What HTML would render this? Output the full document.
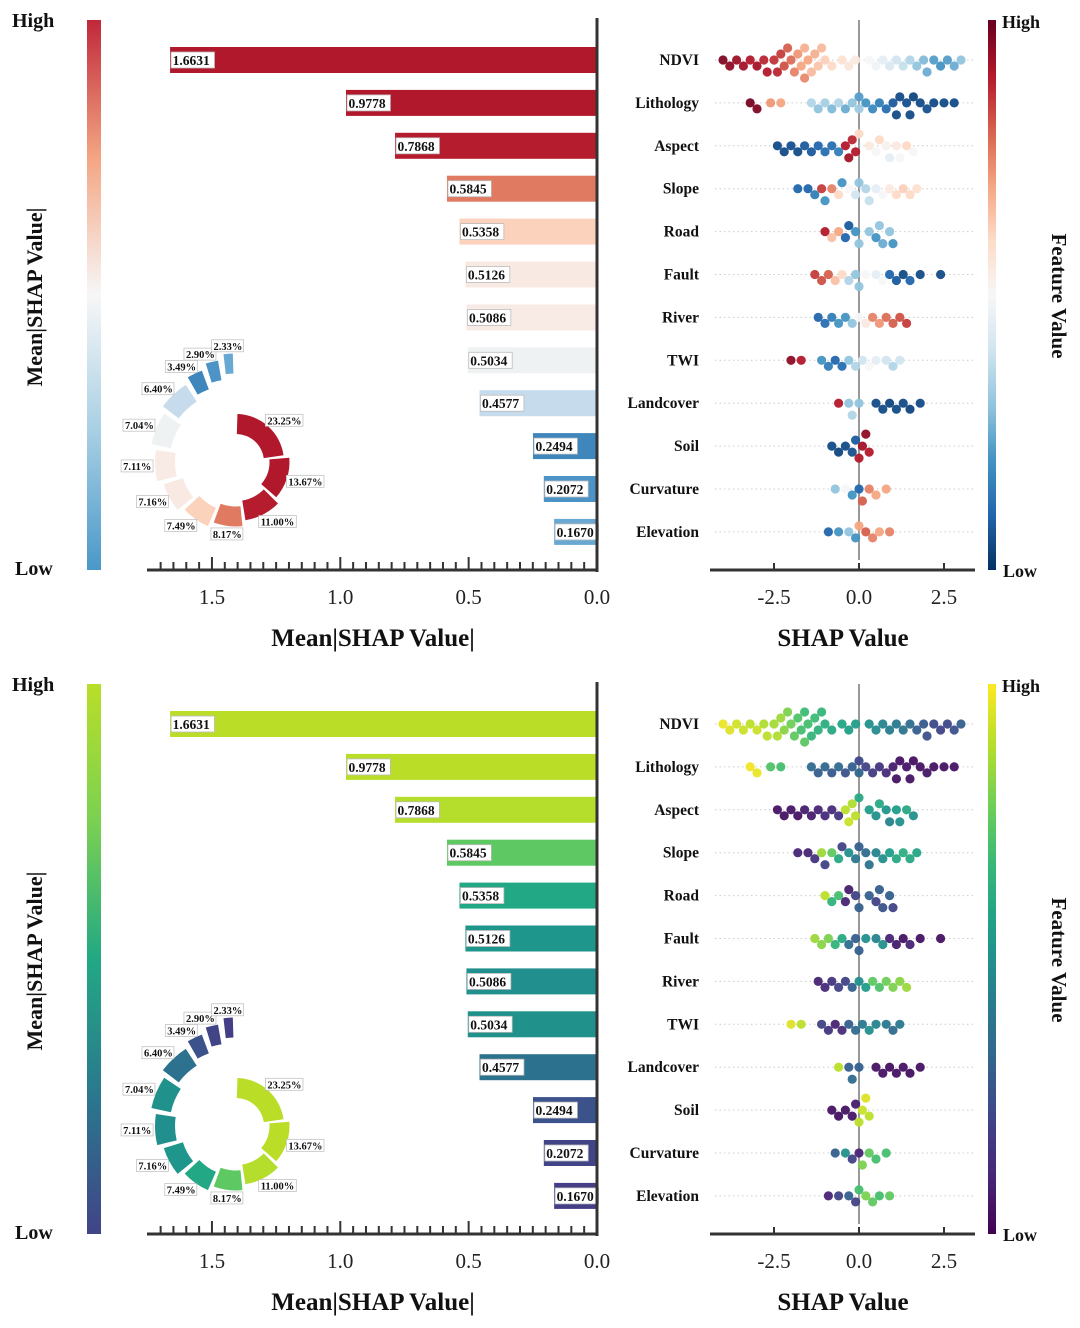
<!DOCTYPE html>
<html><head><meta charset="utf-8">
<style>
html,body{margin:0;padding:0;background:#fff;}
svg{display:block;font-family:"Liberation Serif",serif;}
</style></head>
<body>
<svg id="chart" width="1080" height="1328" viewBox="0 0 1080 1328" xmlns="http://www.w3.org/2000/svg"></svg>
<script>
const features = ["NDVI","Lithology","Aspect","Slope","Road","Fault","River","TWI","Landcover","Soil","Curvature","Elevation"];
const meanShap = [1.6631,0.9778,0.7868,0.5845,0.5358,0.5126,0.5086,0.5034,0.4577,0.2494,0.2072,0.1670];
const sharePct = [23.25,13.67,11.00,8.17,7.49,7.16,7.11,7.04,6.40,3.49,2.90,2.33];
const barTicks = [1.5,1.0,0.5,0.0];
const shapTicks = [-2.5,0.0,2.5];
const barColorsRdBu = ["#b2182b","#b2182b","#b51d2e","#e07b62","#fbd3bd","#f8e9e3","#f8ebe6","#eef2f3","#c6dcec","#3f86bd","#4d93c5","#69a8d2"];
const barColorsVir = ["#bade28","#bade28","#b5dd2b","#5ec962","#22a884","#1f968b","#218f8d","#21918c","#2c728e","#3b528b","#414487","#433e85"];
const swarmShap = [
 [-4.0,-3.8,-3.6,-3.4,-3.2,-3.0,-2.8,-2.7,-2.5,-2.4,-2.3,-2.2,-2.1,-2.0,-1.9,-1.8,-1.7,-1.6,-1.6,-1.5,-1.4,-1.3,-1.2,-1.1,-1.0,-0.8,-0.5,-0.3,-0.1,0.3,0.5,0.7,0.9,1.1,1.3,1.5,1.7,1.9,2.0,2.2,2.4,2.6,2.8,3.0],
 [-3.2,-3.0,-2.6,-2.3,-1.4,-1.2,-1.0,-0.8,-0.6,-0.4,-0.2,0.0,0.0,0.2,0.4,0.6,0.8,1.0,1.1,1.2,1.4,1.5,1.6,1.8,2.0,2.2,2.5,2.8],
 [-2.4,-2.2,-2.0,-1.8,-1.6,-1.4,-1.2,-1.0,-0.8,-0.6,-0.4,-0.3,-0.2,-0.1,0.0,0.3,0.5,0.6,0.8,0.9,1.1,1.2,1.4,1.6],
 [-1.8,-1.5,-1.3,-1.1,-1.0,-0.8,-0.6,-0.5,-0.3,-0.1,0.0,0.2,0.3,0.5,0.7,0.9,1.1,1.3,1.5,1.7],
 [-1.0,-0.8,-0.6,-0.4,-0.3,-0.1,0.0,0.3,0.5,0.6,0.7,0.9,1.0],
 [-1.3,-1.1,-0.9,-0.7,-0.5,-0.3,-0.1,0.0,0.2,0.5,0.7,0.9,1.1,1.3,1.5,1.8,2.4],
 [-1.2,-1.0,-0.8,-0.6,-0.4,-0.2,0.0,0.2,0.4,0.6,0.8,1.0,1.2,1.4],
 [-2.0,-1.7,-1.1,-0.9,-0.7,-0.5,-0.3,-0.1,0.1,0.3,0.5,0.8,1.0,1.2],
 [-0.6,-0.3,-0.2,0.0,0.5,0.7,0.9,1.1,1.3,1.5,1.8],
 [-0.8,-0.6,-0.4,-0.2,-0.1,0.0,0.1,0.2,0.3],
 [-0.7,-0.4,-0.2,0.0,0.1,0.3,0.5,0.8],
 [-0.9,-0.6,-0.3,-0.1,0.0,0.2,0.4,0.6,0.9]
];
const swarmFeat = [
 [0.97,0.95,0.93,0.92,0.9,0.92,0.88,0.9,0.86,0.88,0.85,0.82,0.8,0.78,0.75,0.72,0.7,0.68,0.74,0.7,0.66,0.68,0.64,0.66,0.62,0.6,0.58,0.56,0.55,0.5,0.48,0.45,0.42,0.4,0.38,0.35,0.3,0.28,0.25,0.22,0.2,0.22,0.25,0.3],
 [0.98,0.97,0.72,0.7,0.35,0.3,0.33,0.28,0.35,0.25,0.3,0.32,0.22,0.2,0.18,0.15,0.12,0.08,0.05,0.05,0.06,0.05,0.04,0.05,0.06,0.05,0.05,0.05],
 [0.05,0.05,0.06,0.05,0.08,0.08,0.1,0.12,0.12,0.15,0.9,0.92,0.88,0.9,0.6,0.55,0.5,0.6,0.52,0.45,0.55,0.5,0.6,0.5],
 [0.1,0.1,0.15,0.85,0.2,0.75,0.6,0.2,0.5,0.4,0.3,0.35,0.38,0.45,0.5,0.55,0.6,0.62,0.6,0.58],
 [0.9,0.65,0.7,0.1,0.08,0.2,0.3,0.3,0.2,0.3,0.25,0.3,0.2],
 [0.85,0.82,0.8,0.65,0.6,0.35,0.3,0.3,0.5,0.45,0.5,0.1,0.08,0.05,0.1,0.05,0.05],
 [0.1,0.12,0.15,0.2,0.2,0.3,0.5,0.55,0.75,0.72,0.78,0.8,0.82,0.85],
 [0.95,0.9,0.2,0.15,0.1,0.12,0.3,0.35,0.4,0.5,0.45,0.4,0.35,0.4],
 [0.9,0.3,0.35,0.3,0.05,0.05,0.04,0.05,0.05,0.04,0.05],
 [0.05,0.04,0.05,0.06,0.08,0.9,0.92,0.95,0.9],
 [0.3,0.5,0.2,0.1,0.8,0.75,0.7,0.7],
 [0.1,0.2,0.3,0.2,0.7,0.8,0.75,0.7,0.75]
];
const RDBU = ["#053061","#2166ac","#4393c3","#92c5de","#d1e5f0","#f7f7f7","#fddbc7","#f4a582","#d6604d","#b2182b","#67001f"];
const VIR = ["#440154","#482878","#3e4989","#31688e","#26828e","#1f9e89","#35b779","#6ece58","#b5de2b","#fde725"];

const NS="http://www.w3.org/2000/svg";
const svg=document.getElementById('chart');
function el(tag,attrs,parent){const e=document.createElementNS(NS,tag);for(const k in attrs)e.setAttribute(k,attrs[k]);(parent||svg).appendChild(e);return e;}
function hex(c){return [1,3,5].map(i=>parseInt(c.substr(i,2),16));}
function cmap(stops,t){t=Math.max(0,Math.min(1,t));const n=stops.length-1;const i=Math.min(n-1,Math.floor(t*n));const f=t*n-i;const a=hex(stops[i]),b=hex(stops[i+1]);return 'rgb('+a.map((v,k)=>Math.round(v+(b[k]-v)*f)).join(',')+')';}

let gradId=0;
function gradient(stops){const id='g'+(gradId++);const defs=el('defs',{});const g=el('linearGradient',{id:id,x1:0,y1:1,x2:0,y2:0},defs);stops.forEach((c,i)=>{el('stop',{offset:(i/(stops.length-1)),'stop-color':c},g);});return id;}

function drawPanel(oy,barColors,leftStops,rightStops){
  const g=el('g',{});
  
  
  const x0=597, ppu=256.7;
  const bx=v=>x0-v*ppu;
  const rowY=i=>oy+60+i*42.9;
  const lg=gradient(leftStops);
  const lcb=el('rect',{x:87,y:oy+20,width:14,height:550,fill:'url(#'+lg+')'},g);
  
  
  let t=el('text',{x:12,y:oy+27,'font-size':20,'font-weight':'bold',fill:'#111'},g);t.textContent='High';
  
  t=el('text',{x:15,y:oy+575,'font-size':20,'font-weight':'bold',fill:'#111'},g);t.textContent='Low';
  
  t=el('text',{x:0,y:0,'font-size':22,'font-weight':'bold','text-anchor':'middle',transform:'translate(42,'+(oy+297)+') rotate(-90)',fill:'#111'},g);t.textContent='Mean|SHAP Value|';
  
  meanShap.forEach((v,i)=>{
    const y=rowY(i);
    const r=el('rect',{x:bx(v),y:y-13,width:v*ppu,height:26,fill:barColors[i]},g);
    
    
    const lbl=v.toFixed(4);
    const w=lbl.length*6.9+2;
    const b=el('rect',{x:bx(v)+1,y:y-8,width:w,height:16,fill:'#fff',stroke:'#bbb','stroke-width':0.8},g);
    
    const tx=el('text',{x:bx(v)+2.5,y:y+5,'font-size':13.5,'font-weight':'bold',fill:'#111'},g);tx.textContent=lbl;
    
  });
  el('line',{x1:x0,y1:oy+18,x2:x0,y2:oy+572,stroke:'#333','stroke-width':3},g);
  el('line',{x1:147,y1:oy+570,x2:x0,y2:oy+570,stroke:'#333','stroke-width':3},g);
  for(let k=0;k<=34;k++){const v=k*0.05;const x=bx(v);if(x<150)continue;const major=k%10===0;el('line',{x1:x,y1:oy+570,x2:x,y2:oy+570-(major?13:8),stroke:'#333','stroke-width':2},g);}
  barTicks.forEach(v=>{const tt=el('text',{x:bx(v),y:oy+604,'font-size':21,'text-anchor':'middle',fill:'#222'},g);tt.textContent=v.toFixed(1);
    });
  t=el('text',{x:373,y:oy+646,'font-size':25,'font-weight':'bold','text-anchor':'middle',fill:'#111'},g);t.textContent='Mean|SHAP Value|';
  
  // donut
  const cx=236,cy=oy+462;let cum=0;
  sharePct.forEach((p,i)=>{
    const a0=cum/100*2*Math.PI+0.03, a1=(cum+p)/100*2*Math.PI-0.03; cum+=p;
    const ri=28+5.5*i, ro=ri+20;
    const P=(r,a)=>[cx+r*Math.sin(a),cy-r*Math.cos(a)];
    const large=(a1-a0)>Math.PI?1:0;
    const [x1,y1]=P(ro,a0),[x2,y2]=P(ro,a1),[x3,y3]=P(ri,a1),[x4,y4]=P(ri,a0);
    const pth=el('path',{d:`M${x1},${y1}A${ro},${ro} 0 ${large} 1 ${x2},${y2}L${x3},${y3}A${ri},${ri} 0 ${large} 0 ${x4},${y4}Z`,fill:barColors[i]},g);
    
    
    const am=(a0+a1)/2; const [lx,ly]=P(ro+8,am);
    const lbl=p.toFixed(2)+'%';
    const w=lbl.length*5.6+4;
    const ax=Math.sin(am)>0.2?lx-8:(Math.sin(am)<-0.2?lx-w+6:lx-w/2);
    const bb=el('rect',{x:ax,y:ly-6,width:w,height:12,fill:'#fff',stroke:'#bbb','stroke-width':0.7},g);
    
    const tt=el('text',{x:ax+2,y:ly+4,'font-size':10.5,'font-weight':'bold',fill:'#111'},g);tt.textContent=lbl;
    
  });
  // beeswarm
  const sx0=859, spu=34;
  const sx=v=>sx0+v*spu;
  el('line',{x1:sx0,y1:oy+20,x2:sx0,y2:oy+560,stroke:'#999','stroke-width':2},g);
  features.forEach((f,i)=>{
    const y=rowY(i);
    el('line',{x1:715,y1:y,x2:975,y2:y,stroke:'#ccc','stroke-width':1,'stroke-dasharray':'1.5,3'},g);
    const tt=el('text',{x:699,y:y+5,'font-size':15.5,'font-weight':'bold','text-anchor':'end',fill:'#111'},g);tt.textContent=f;
    
    const placed=[];
    swarmShap[i].forEach((v,j)=>{
      const x=sx(v);let dy=0;
      const cands=[0,6,-6,12,-12,18,-18];
      for(const c of cands){if(placed.every(p=>Math.hypot(p[0]-x,p[1]-c)>=7.5)){dy=c;break;}dy=c;}
      placed.push([x,dy]);
      const c=el('circle',{cx:x,cy:y+dy,r:4.6,fill:cmap(rightStops,swarmFeat[i][j]),'fill-opacity':0.95},g);
      
      
    });
  });
  el('line',{x1:710,y1:oy+570,x2:975,y2:oy+570,stroke:'#333','stroke-width':3},g);
  shapTicks.forEach(v=>{el('line',{x1:sx(v),y1:oy+570,x2:sx(v),y2:oy+563,stroke:'#333','stroke-width':2},g);
    const tt=el('text',{x:sx(v),y:oy+604,'font-size':21,'text-anchor':'middle',fill:'#222'},g);tt.textContent=v.toFixed(1);
    });
  t=el('text',{x:843,y:oy+646,'font-size':25,'font-weight':'bold','text-anchor':'middle',fill:'#111'},g);t.textContent='SHAP Value';
  
  const rg=gradient(rightStops);
  const rcb=el('rect',{x:988,y:oy+20,width:8,height:550,fill:'url(#'+rg+')'},g);
  
  t=el('text',{x:1002,y:oy+28,'font-size':18,'font-weight':'bold',fill:'#111'},g);t.textContent='High';
  
  t=el('text',{x:1003,y:oy+577,'font-size':18,'font-weight':'bold',fill:'#111'},g);t.textContent='Low';
  
  t=el('text',{x:0,y:0,'font-size':21,'font-weight':'bold','text-anchor':'middle',transform:'translate(1052,'+(oy+296)+') rotate(90)',fill:'#111'},g);t.textContent='Feature Value';
  
}
drawPanel(0,barColorsRdBu,["#4a98c9","#a7cfe4","#f7f7f7","#f4a582","#c0283a"],RDBU);
drawPanel(664,barColorsVir,["#414487","#2a788e","#22a884","#7ad151","#bade28"],VIR);
</script>
</body></html>
